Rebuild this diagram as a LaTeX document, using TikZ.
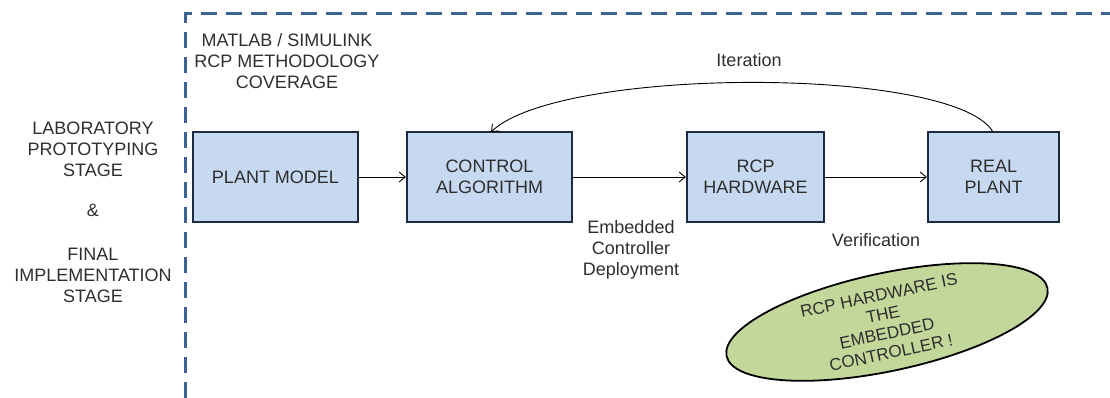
\documentclass[tikz,border=0pt]{standalone}
\usepackage{fontspec}
\setmainfont{Liberation Sans}
\usetikzlibrary{arrows.meta,shapes.geometric}
\definecolor{boxfill}{HTML}{C6D9F0}
\definecolor{boxline}{HTML}{1C2B40}
\definecolor{frameblue}{HTML}{3B6395}
\definecolor{notefill}{HTML}{C4D79B}
\definecolor{txt}{HTML}{2E2E2E}
\tikzset{
  every node/.style={text=txt, font=\fontsize{18}{21}\selectfont},
  stagebox/.style={draw=boxline, line width=2.4pt, fill=boxfill, inner sep=0pt,
    minimum height=90pt, align=center},
  flow/.style={line width=0.9pt, -{Straight Barb[length=6pt,width=10pt]}},
  lbl/.style={align=center, inner sep=0pt},
  frame/.style={draw=frameblue, line width=3pt, dash pattern=on 16pt off 9pt},
}
\begin{document}
\begin{tikzpicture}[x=1pt, y=-1pt]
\useasboundingbox (0,0) rectangle (1110,398);

% coverage frame
\coordinate (fcorner) at (185,14);
\coordinate (fbottom) at (185,398);
\coordinate (fright) at (1110,14);
\draw[frame] (fbottom) -- (fcorner) -- (fright);

% side description
\node[lbl] (stage) at (93,212) {LABORATORY\\PROTOTYPING\\STAGE\\[19pt]\&\\[23pt]FINAL\\IMPLEMENTATION\\STAGE};
\node[lbl] (cover) at (287,61) {MATLAB / SIMULINK\\RCP METHODOLOGY\\COVERAGE};

% processing chain
\node[stagebox, minimum width=165pt] (plant) at (275.5,177) {PLANT MODEL};
\node[stagebox, minimum width=165pt] (ctrl) at (489.5,177) {CONTROL\\ALGORITHM};
\node[stagebox, minimum width=137pt] (rcp) at (755.5,177) {RCP\\HARDWARE};
\node[stagebox, minimum width=131pt] (real) at (993.5,177) {REAL\\PLANT};

\draw[flow] (plant) -- (ctrl);
\draw[flow] (ctrl) -- (rcp);
\draw[flow] (rcp) -- (real);

% iteration loop
\coordinate (itstart) at (993,132);
\coordinate (itend) at (491,132);
\draw[flow] (itstart) .. controls (955,66) and (560,66) .. (itend);
\node[lbl] (iter) at (749,60) {Iteration};

% edge labels
\node[lbl] (deploy) at (631,250) {Embedded\\Controller\\Deployment};
\node[lbl] (verif) at (876,240) {Verification};

% highlighted remark
\node[ellipse, draw=black, line width=1.8pt, fill=notefill, minimum width=328pt,
  minimum height=98pt, inner sep=0pt, rotate=12] (note) at (887,322) {};
\node[lbl, rotate=12, font=\fontsize{17}{19.5}\selectfont] (notetext) at (885,324)
  {RCP HARDWARE IS\\THE\\EMBEDDED\\CONTROLLER !};
\end{tikzpicture}
\end{document}
